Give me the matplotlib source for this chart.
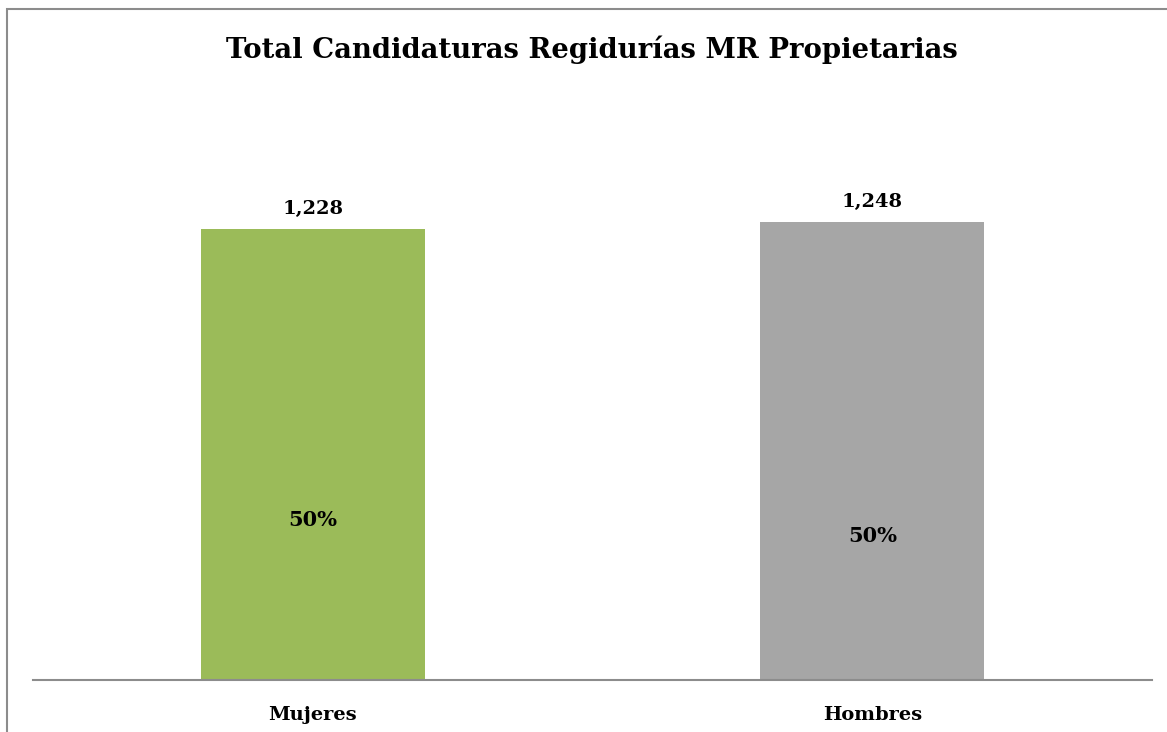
import matplotlib.pyplot as plt
from matplotlib.patches import Rectangle

categories = ["Mujeres", "Hombres"]
totals = [1228, 1248]
pct_labels = ["50%", "50%"]
title = "Total Candidaturas Regidurías MR Propietarias"

colors = ["#9BBB59", "#A6A6A6"]
pct_pos = [0.355, 0.315]  # fraction of bar height where the % label sits

W, H = 1167, 732
fig = plt.figure(figsize=(W / 100, H / 100), dpi=100)
font = "DejaVu Serif"

# axes area in pixels: x 33..1152, baseline at y=680, top at y=120
ax = fig.add_axes([33 / W, 1 - 680 / H, (1152 - 33) / W, (680 - 120) / H])
x = list(range(len(categories)))
bars = ax.bar(x, totals, width=0.4, color=colors)
ax.set_xlim(-0.5, 1.5)
ax.set_ylim(0, 1228 * 560 / 451)

for b, v, p, f in zip(bars, totals, pct_labels, pct_pos):
    cx = b.get_x() + b.get_width() / 2
    ax.annotate(f"{v:,}", (cx, v), xytext=(0, 14.5), textcoords="offset points",
                ha="center", va="center", fontsize=14, fontweight="bold", family=font)
    ax.text(cx, v * f, p, ha="center", va="center", fontsize=15,
            fontweight="bold", family=font)

for s in ["top", "right", "left"]:
    ax.spines[s].set_visible(False)
ax.spines["bottom"].set_color("#8c8c8c")
ax.spines["bottom"].set_linewidth(1.5)
ax.set_yticks([])
ax.set_xticks(x)
ax.set_xticklabels(categories, fontsize=14, fontweight="bold", family=font)
ax.tick_params(axis="x", length=0, pad=19)

fig.text(592 / W, 1 - 50 / H, title, ha="center", va="center",
         fontsize=19.8, fontweight="bold", family=font)

# outer chart border (only left and top visible in the crop)
fig.patches.append(Rectangle((7 / W, -0.1), 1.2, 1 - 9 / H + 0.1,
                             transform=fig.transFigure, fill=False,
                             edgecolor="#8c8c8c", linewidth=1.5))

fig.savefig("out.png", dpi=100)
